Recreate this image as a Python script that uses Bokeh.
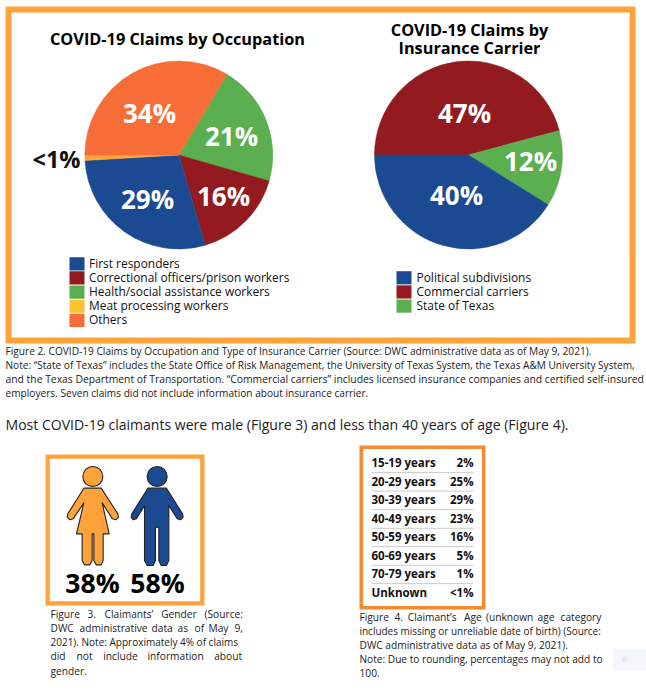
from math import pi
from bokeh.plotting import figure
from bokeh.embed import file_html
from bokeh.resources import INLINE
from bokeh.core.properties import value

# ---- data ----
occ_labels = ["First responders", "Correctional officers/prison workers", "Health/social assistance workers", "Meat processing workers", "Others"]
occ_values = [28.6, 16.0, 20.9, 0.9, 33.6]
occ_text = ["29%", "16%", "21%", "<1%", "34%"]
car_labels = ["Political subdivisions", "Commercial carriers", "State of Texas"]
car_values = [41.1, 45.8, 13.1]
car_text = ["40%", "47%", "12%"]
gender_text = ["38%", "58%"]
age_labels = ["15-19 years", "20-29 years", "30-39 years", "40-49 years", "50-59 years", "60-69 years", "70-79 years", "Unknown"]
age_text = ["2%", "25%", "29%", "23%", "16%", "5%", "1%", "<1%"]

# ---- style ----
BLUE, RED, GREEN, YELLOW, ORANGE = "#1B4A92", "#931A1F", "#5BAF50", "#FFC12D", "#F76D38"
BORDER = "#FFA239"
FONT = "Open Sans"
W, H = 646, 695

p = figure(width=W, height=H, x_range=(0, W), y_range=(0, H), toolbar_location=None,
           output_backend="svg", min_border=0, outline_line_color=None,
           background_fill_color="white", border_fill_color="white")
p.axis.visible = False
p.grid.visible = False
p.styles = {"position": "absolute", "left": "0px", "top": "0px"}

def Y(y):
    return H - y

def txt(x, y, s, size, color="#111111", bold=False, align="left"):
    p.text([x], [Y(y - 0.9)], text=[s], text_font=value(FONT), text_font_size=f"{size}px",
           text_color=color, text_font_style="bold" if bold else "normal",
           text_align=align, text_baseline="middle")

def box(x0, y0, x1, y1, color, width):
    p.quad(left=[x0 + width / 2], right=[x1 - width / 2], top=[Y(y0 + width / 2)], bottom=[Y(y1 - width / 2)],
           fill_color=None, line_color=color, line_width=width, line_join="miter")

def pie(cx, cy, r, vals, colors, start_deg):
    total = sum(vals)
    a = start_deg * pi / 180
    for v, c in zip(vals, colors):
        b = a - v / total * 2 * pi
        p.wedge([cx], [Y(cy)], radius=r, start_angle=b, end_angle=a, fill_color=c, line_color=c, line_width=0.5)
        a = b

def legend(x, y, labels, colors, tx):
    for i, (l, c) in enumerate(zip(labels, colors)):
        yy = y + i * 14.15
        p.quad(left=[x], right=[x + 15], top=[Y(yy - 6.6)], bottom=[Y(yy + 6.6)], fill_color=c, line_color=None)
        txt(tx, yy + 0.2, l, 11.95)

# Figure 2 panel
box(5, 6, 635, 343, BORDER, 6)
txt(177, 39, "COVID-19 Claims by Occupation", 16.3, "#000000", True, "center")
txt(469, 30, "COVID-19 Claims by", 16.3, "#000000", True, "center")
txt(469, 48, "Insurance Carrier", 16.3, "#000000", True, "center")

occ_colors = [BLUE, RED, GREEN, YELLOW, ORANGE]
# clockwise from the orange/green boundary
pie(178.3, 154.5, 94, [occ_values[i] for i in (2, 1, 0, 3, 4)], [occ_colors[i] for i in (2, 1, 0)] + ["#FFA53A", ORANGE], 59.2)
car_colors = [BLUE, RED, GREEN]
pie(468, 154.5, 94, [car_values[i] for i in (1, 2, 0)], [RED, GREEN, BLUE], 180)

for (x, y), s in zip([(147, 199), (223, 196), (231, 136)], [occ_text[0], occ_text[1], occ_text[2]]):
    txt(x, y, s, 26, "white", True, "center")
txt(149, 113, occ_text[4], 26, "white", True, "center")
txt(56, 159, occ_text[3], 23.5, "#111111", True, "center")
for (x, y), s in zip([(456, 195), (464, 113), (530, 161)], car_text):
    txt(x, y, s, 26, "white", True, "center")

legend(69, 263.3, occ_labels, occ_colors, 88.5)
legend(396, 277.3, car_labels, car_colors, 416)

# captions
CAP = 10.15
caption2 = ["Figure 2. COVID-19 Claims by Occupation and Type of Insurance Carrier (Source: DWC administrative data as of May 9, 2021).",
            "Note: \u201cState of Texas\u201d includes the State Office of Risk Management, the University of Texas System, the Texas A&M University System,",
            "and the Texas Department of Transportation. \u201cCommercial carriers\u201d includes licensed insurance companies and certified self-insured",
            "employers. Seven claims did not include information about insurance carrier."]
for y, s, sz in zip([351.2, 365.2, 379, 393.2], caption2, [CAP, 10.1, 10.35, CAP]):
    txt(5, y, s, sz, "#222222")
txt(5, 424.5, "Most COVID-19 claimants were male (Figure 3) and less than 40 years of age (Figure 4).", 14.05, "#222222")

# Figure 3 panel
box(45, 454, 204, 605, BORDER, 4.3)
DARK = "#222222"
def Zx(x): return x / 3 + 30
def Zy(y): return y / 3 + 445
female = [(160,128),(212,128),(262,205),(264,215),(256,223),(246,220),(215,172),(236,265),(218,265),(218,345),(212,358),(197,358),(190,345),(190,265),(185,265),(185,345),(178,358),(162,358),(155,345),(155,265),(138,265),(160,172),(128,220),(118,223),(110,215),(112,205)]
male = [(352,128),(408,128),(456,205),(458,215),(450,223),(440,220),(415,180),(415,345),(408,360),(392,360),(385,345),(385,245),(375,245),(375,345),(368,360),(350,360),(342,345),(342,180),(318,220),(308,223),(302,215),(304,205)]
for shape, c, hx in [(female, BORDER, 187), (male, BLUE, 380)]:
    p.patch([Zx(a) for a, b in shape], [Y(Zy(b)) for a, b in shape], fill_color=c, line_color=DARK, line_width=1.1, line_join="round")
    p.circle([Zx(hx)], [Y(Zy(93))], radius=10, fill_color=c, line_color=DARK, line_width=1.1)
txt(92, 583, gender_text[0], 26.6, "#000000", True, "center")
txt(157, 583, gender_text[1], 26.6, "#000000", True, "center")

def words(y, items, size=CAP + 0.05):
    for x, s in items:
        txt(x, y, s, size, "#222222")

words(614.3, [(50, "Figure"), (87, "3."), (104, "Claimants\u2019"), (160.7, "Gender"), (204, "(Source:")])
words(628.3, [(50, "DWC"), (79, "administrative"), (151, "data"), (177, "as"), (194, "of"), (208, "May"), (234, "9,")])
words(642.3, [(50, "2021). Note: Approximately 4% of claims")], 10.0)
words(656.3, [(50, "did"), (76, "not"), (102.7, "include"), (147, "information"), (213.7, "about")])
words(671.7, [(50, "gender.")])

# Figure 4 panel
box(359, 445, 485, 609, "#F58A33", 3.6)
age_y = [463.3, 481.7, 500.3, 519, 537.3, 556, 574.3, 592.7]
for i, (yy, a, v) in enumerate(zip(age_y, age_labels, age_text)):
    txt(371, yy, a, 11.5, "#111111", True)
    txt(473, yy, v, 11.5, "#111111", True, "right")
    if i < len(age_y) - 1:
        p.line([371, 473], [Y(yy + 8.8)] * 2, line_color="#CCCCCC", line_width=1)

words(617.7, [(359, "Figure"), (394, "4."), (407.3, "Claimant\u2019s"), (463.5, "Age"), (485.5, "(unknown"), (537, "age"), (560, "category")])
words(631.7, [(359, "includes missing or unreliable date of birth) (Source:")], 9.96)
words(645.7, [(359, "DWC administrative data as of May 9, 2021).")])
words(659.3, [(359, "Note: Due to rounding, percentages may not add to")], 10.15)
words(673.3, [(359, "100.")])

# faint page widget, lower right
p.quad(left=[613], right=[646], top=[Y(648)], bottom=[Y(670)], fill_color="#F3F7FC", line_color=None)
p.circle([624], [Y(659)], radius=3, fill_color="#E6EAF0", line_color=None)

open("out.html", "w").write(file_html(p, INLINE))
